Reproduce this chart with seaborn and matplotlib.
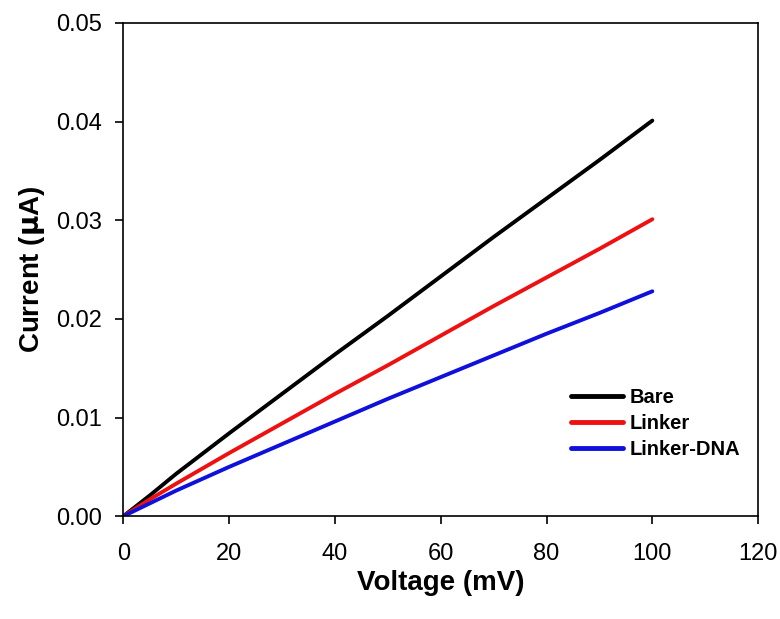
import pandas as pd
import seaborn as sns
import matplotlib.pyplot as plt

# voltage (mV) and current (uA)
voltage = [0, 5, 10, 20, 30, 40, 50, 60, 70, 80, 90, 100]
bare = [0, 0.0021, 0.0043, 0.0084, 0.0124, 0.0164, 0.0203, 0.0243, 0.0283, 0.0322, 0.0361, 0.0401]
linker = [0, 0.0017, 0.0033, 0.0064, 0.0094, 0.0124, 0.0153, 0.0183, 0.0213, 0.0242, 0.0271, 0.0301]
linker_dna = [0, 0.0013, 0.0026, 0.0050, 0.0073, 0.0096, 0.0119, 0.0141, 0.0163, 0.0185, 0.0206, 0.0228]
series = ["Bare", "Linker", "Linker-DNA"]
colors = ["#000000", "#ee1111", "#1010dd"]

df = pd.concat([
    pd.DataFrame({"Voltage": voltage, "Current": vals, "Sample": name})
    for name, vals in zip(series, [bare, linker, linker_dna])
])

sns.set_style("ticks")
plt.rcParams["font.family"] = ["Liberation Sans", "DejaVu Sans"]
plt.rcParams["text.color"] = "black"
plt.rcParams["axes.labelcolor"] = "black"

fig = plt.figure(figsize=(7.8, 6.19), dpi=100)
ax = fig.add_axes([0.158, 0.166, 0.814, 0.797])

sns.lineplot(data=df, x="Voltage", y="Current", hue="Sample",
             palette=colors, linewidth=2.8, ax=ax)

ax.set_xlim(0, 120)
ax.set_ylim(0, 0.05)
ax.set_xticks([0, 20, 40, 60, 80, 100, 120])
ax.set_yticks([0, 0.01, 0.02, 0.03, 0.04, 0.05])
ax.set_yticklabels(["0.00", "0.01", "0.02", "0.03", "0.04", "0.05"])
ax.tick_params(labelsize=17, direction="out", length=6, width=1.2,
               colors="black", top=False, right=False)
ax.tick_params(axis="y", pad=9)
ax.tick_params(axis="x", pad=13)
for s in ax.spines.values():
    s.set_linewidth(1.2)
    s.set_color("black")

ax.set_xlabel("Voltage (mV)", fontsize=20, fontweight="bold", labelpad=4)
ax.set_ylabel("Current ($\\mathbf{\\mu}$A)", fontsize=20, fontweight="bold", labelpad=7)

leg = ax.legend(loc="lower right", bbox_to_anchor=(1.0, 0.08), frameon=False,
                handlelength=2.6, handletextpad=0.3, labelspacing=0.35,
                prop={"size": 14.5, "weight": "bold"})
for line in leg.get_lines():
    line.set_linewidth(3.5)

fig.savefig("out.png", dpi=100)
